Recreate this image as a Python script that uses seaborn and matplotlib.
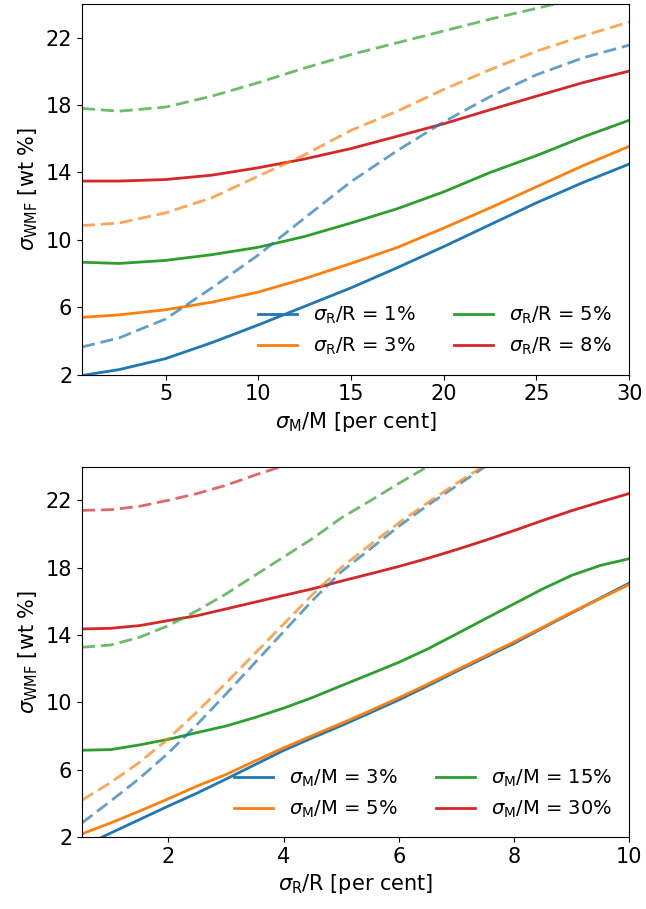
import matplotlib
matplotlib.use("Agg")
import matplotlib.pyplot as plt
import seaborn as sns

# top panel: sigma_WMF vs sigma_M/M, one curve per sigma_R/R
sig_m = [0.5, 2.5, 5, 7.5, 10, 12.5, 15, 17.5, 20, 22.5, 25, 27.5, 30]
sig_r_levels = ["1%", "3%", "5%", "8%"]
top_solid = [
    [1.95, 2.3, 2.95, 3.9, 4.95, 6.05, 7.15, 8.35, 9.6, 10.9, 12.2, 13.4, 14.5],
    [5.4, 5.55, 5.85, 6.3, 6.9, 7.7, 8.6, 9.55, 10.7, 11.9, 13.15, 14.4, 15.55],
    [8.67, 8.6, 8.78, 9.12, 9.56, 10.2, 11.0, 11.85, 12.85, 14.0, 15.0, 16.1, 17.1],
    [13.49, 13.49, 13.58, 13.84, 14.28, 14.8, 15.42, 16.15, 16.89, 17.72, 18.53, 19.33, 20.02],
]
top_dashed = [
    [3.64, 4.18, 5.3, 7.15, 9.1, 11.3, 13.45, 15.3, 17.0, 18.5, 19.8, 20.8, 21.56],
    [10.85, 11.0, 11.6, 12.5, 13.78, 15.05, 16.5, 17.64, 18.93, 20.1, 21.2, 22.1, 22.93],
    [17.8, 17.64, 17.88, 18.53, 19.33, 20.2, 21.0, 21.7, 22.4, 23.1, 23.74, 24.4, 25.0],
]

# bottom panel: sigma_WMF vs sigma_R/R, one curve per sigma_M/M
sig_r = [0.5, 1, 1.5, 2, 2.5, 3, 3.5, 4, 4.5, 5, 5.5, 6, 6.5, 7, 7.5, 8, 8.5, 9, 9.5, 10]
sig_m_levels = ["3%", "5%", "15%", "30%"]
bot_solid = [
    [1.45, 2.25, 3.05, 3.85, 4.62, 5.45, 6.3, 7.15, 7.9, 8.62, 9.38, 10.15, 10.98, 11.84, 12.67, 13.5, 14.42, 15.31, 16.2, 17.08],
    [2.2, 2.85, 3.55, 4.28, 5.04, 5.72, 6.52, 7.3, 8.03, 8.75, 9.5, 10.27, 11.08, 11.92, 12.75, 13.59, 14.46, 15.35, 16.17, 17.0],
    [7.16, 7.2, 7.48, 7.81, 8.21, 8.6, 9.1, 9.66, 10.29, 10.99, 11.68, 12.38, 13.17, 14.06, 14.96, 15.85, 16.74, 17.54, 18.13, 18.53],
    [14.36, 14.4, 14.56, 14.86, 15.15, 15.55, 15.95, 16.35, 16.74, 17.2, 17.63, 18.07, 18.55, 19.07, 19.62, 20.2, 20.8, 21.38, 21.9, 22.4],
]
bot_dashed = [
    [2.85, 4.15, 5.5, 7.0, 8.7, 10.5, 12.35, 14.2, 16.05, 17.75, 19.1, 20.45, 21.7, 22.85, 24.0, 25.0, 26.0, 27.0, 28.0, 29.0],
    [4.2, 5.25, 6.45, 7.85, 9.45, 11.15, 12.9, 14.65, 16.4, 18.0, 19.35, 20.65, 21.85, 23.0, 24.1, 25.1, 26.1, 27.1, 28.1, 29.1],
    [13.27, 13.41, 13.87, 14.56, 15.45, 16.44, 17.54, 18.63, 19.72, 20.95, 21.96, 23.0, 24.0, 24.9, 25.8, 26.6, 27.4, 28.2, 29.0, 29.8],
    [21.4, 21.44, 21.64, 22.0, 22.4, 22.89, 23.49, 24.05, 24.7, 25.4, 26.1, 26.8, 27.5, 28.2, 28.9, 29.6, 30.3, 31.0, 31.7, 32.4],
]

colors = sns.color_palette("tab10", 4)
yticks = [2, 6, 10, 14, 18, 22]
dash = (0, (4.7, 2.1))

fig, axes = plt.subplots(2, 1, figsize=(6.46, 9.09))
fig.subplots_adjust(left=0.127, right=0.974, top=0.9956, bottom=0.079, hspace=0.248)

ax = axes[0]
for i, lev in enumerate(sig_r_levels):
    sns.lineplot(x=sig_m, y=top_solid[i], color=colors[i], lw=2, ax=ax,
                 label=r"$\sigma_{\rm R}$/R = " + lev)
for i, vals in enumerate(top_dashed):
    sns.lineplot(x=sig_m, y=vals, color=colors[i], lw=2, ls=dash, alpha=0.7, ax=ax)
ax.set_xlim(0.5, 30)
ax.set_ylim(2, 24)
ax.set_xticks([5, 10, 15, 20, 25, 30])
ax.set_yticks(yticks)
ax.set_xlabel(r"$\sigma_{\rm M}$/M [per cent]", fontsize=15)
ax.set_ylabel(r"$\sigma_{\rm WMF}$ [wt %]", fontsize=15)
ax.tick_params(labelsize=15)
ax.legend(loc="lower right", ncol=2, frameon=False, fontsize=14)

ax = axes[1]
for i, lev in enumerate(sig_m_levels):
    sns.lineplot(x=sig_r, y=bot_solid[i], color=colors[i], lw=2, ax=ax,
                 label=r"$\sigma_{\rm M}$/M = " + lev)
for i, vals in enumerate(bot_dashed):
    sns.lineplot(x=sig_r, y=vals, color=colors[i], lw=2, ls=dash, alpha=0.7, ax=ax)
ax.set_xlim(0.5, 10)
ax.set_ylim(2, 24)
ax.set_xticks([2, 4, 6, 8, 10])
ax.set_yticks(yticks)
ax.set_xlabel(r"$\sigma_{\rm R}$/R [per cent]", fontsize=15)
ax.set_ylabel(r"$\sigma_{\rm WMF}$ [wt %]", fontsize=15)
ax.tick_params(labelsize=15)
ax.legend(loc="lower right", ncol=2, frameon=False, fontsize=14)

fig.savefig("out.png", dpi=100)
